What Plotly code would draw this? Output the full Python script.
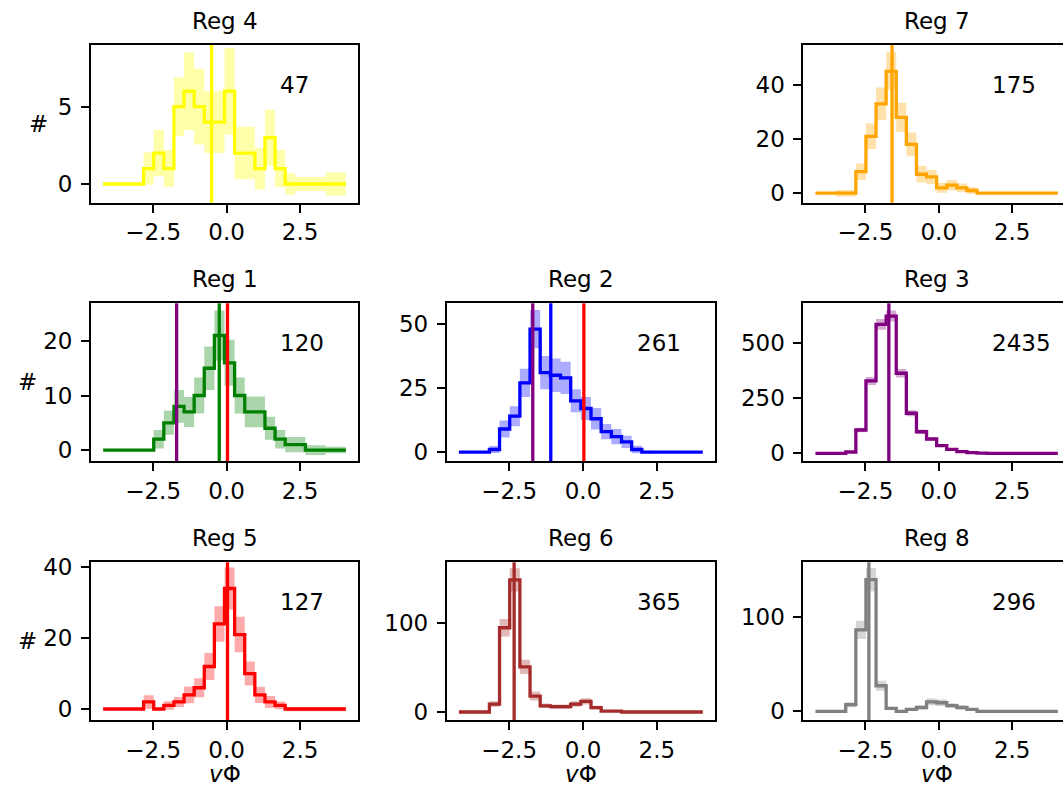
import plotly.graph_objects as go

W, H = 1063, 787
FONT = "DejaVu Sans"
FS = 23

# ---------------- data ----------------
bin_edges = [-4.2, -3.856, -3.512, -3.168, -2.824, -2.48, -2.136, -1.792, -1.448,
             -1.104, -0.76, -0.416, -0.072, 0.272, 0.616, 0.96, 1.304, 1.648,
             1.992, 2.336, 2.68, 3.024, 3.368, 3.712, 4.056]

x_tick_vals = [-2.5, 0.0, 2.5]
x_tick_text = ["\u22122.5", "0.0", "2.5"]

reg4_counts = [0, 0, 0, 0, 1, 2, 1, 5, 6, 5, 4, 4, 6, 2, 2, 1, 3, 1, 0, 0, 0, 0, 0, 0]
reg4_err = [0, 0, 0, 0, 1.05, 1.5, 1.2, 1.9, 2.5, 2.45, 2.0, 2.0, 2.8, 1.7, 1.7, 1.35, 1.8, 1.2,
            0.7, 0.45, 0.45, 0.45, 0.75, 0.75]
reg7_counts = [0, 0, 0, 0, 8, 21, 33, 45, 28, 18, 7, 6, 2, 3, 2, 1, 0, 0, 0, 0, 0, 0, 0, 0]
reg7_err = [0, 0, 1.2, 1.2, 3, 4.7, 6, 7, 5.4, 4.4, 3, 2.6, 1.8, 1.9, 1.6, 1.2, 0, 0, 0, 0, 0, 0, 0, 0]
reg1_counts = [0, 0, 0, 0, 0, 2, 5, 8, 7, 10, 15, 21, 16, 10, 7, 7, 4, 2, 1, 1, 0, 0, 0, 0]
reg1_err = [0, 0, 0, 0, 0, 1.7, 2.2, 3.0, 2.75, 3.3, 4.0, 4.6, 4.2, 3.3, 2.8, 2.8, 2.1, 1.7,
            1.4, 1.4, 0.9, 0.9, 0.6, 0.6]
reg2_counts = [0, 0, 0, 1, 9, 14, 27, 48, 31, 30, 29, 20, 17, 13, 8, 6, 4, 1, 0, 0, 0, 0, 0, 0]
reg2_err = [0, 0, 0, 1.4, 3.3, 3.9, 5.5, 7.5, 6.5, 6.5, 6.3, 4.5, 4.5, 4.2, 3, 3, 2.4, 1.5,
            0.5, 0, 0, 0, 0, 0]
reg3_counts = [0, 0, 0, 6, 106, 329, 586, 624, 364, 182, 98, 65, 35, 18, 8, 3, 1, 0, 0, 0, 0, 0, 0, 0]
reg3_err = [0, 0, 0, 2.5, 10.3, 18.1, 24.2, 25, 19.1, 13.5, 9.9, 8.1, 5.9, 4.2, 2.8, 1.7, 1,
            0, 0, 0, 0, 0, 0, 0]
reg5_counts = [0, 0, 0, 0, 2, 0, 1, 2, 4, 6, 12, 24, 34, 21, 10, 4, 2, 1, 0, 0, 0, 0, 0, 0]
reg5_err = [0, 0, 0, 0, 1.9, 0, 1.2, 1.4, 2.35, 2.7, 3.8, 5, 5.9, 5, 3.4, 2.3, 1.7, 1.1,
            0.6, 0.6, 0.6, 0.6, 0.6, 0.6]
reg6_counts = [0, 0, 0, 9, 95, 149, 51, 18, 7, 6, 6, 9, 12, 5, 1, 1, 0, 0, 0, 0, 0, 0, 0, 0]
reg6_err = [0, 0, 0, 3, 9.8, 13, 8, 5, 2.6, 2.6, 2.5, 3, 3.5, 2.2, 1, 1, 0, 0, 0, 0, 0, 0, 0, 0]
reg8_counts = [0, 0, 0, 7, 86, 139, 27, 3, 0, 2, 4, 10, 9, 6, 4, 2, 0, 0, 0, 0, 0, 0, 0, 0]
reg8_err = [0, 0, 0, 2.6, 9.7, 12.3, 5.3, 1.7, 1, 1.4, 2, 3.5, 3.5, 2.4, 2, 1.4, 0, 0, 0, 0, 0, 0, 0, 0]

region_names = ["Reg 4", "Reg 7", "Reg 1", "Reg 2", "Reg 3", "Reg 5", "Reg 6", "Reg 8"]
region_totals = ["47", "175", "120", "261", "2435", "127", "365", "296"]
region_colors = ["#ffff00", "#ffa500", "#008000", "#0000ff", "#800080", "#ff0000", "#a52a2a", "#808080"]
region_counts = [reg4_counts, reg7_counts, reg1_counts, reg2_counts, reg3_counts,
                 reg5_counts, reg6_counts, reg8_counts]
region_errs = [reg4_err, reg7_err, reg1_err, reg2_err, reg3_err, reg5_err, reg6_err, reg8_err]

# mean vPhi marker lines: (value, colour)
reg4_lines = [(-0.51, "#ffff00")]
reg7_lines = [(-1.59, "#ffa500")]
reg1_lines = [(-1.70, "#800080"), (-0.25, "#008000"), (0.03, "#ff0000")]
reg2_lines = [(-1.70, "#800080"), (-1.09, "#0000ff"), (0.03, "#ff0000")]
reg3_lines = [(-1.70, "#800080")]
reg5_lines = [(0.03, "#ff0000")]
reg6_lines = [(-2.33, "#a52a2a")]
reg8_lines = [(-2.38, "#808080")]
region_lines = [reg4_lines, reg7_lines, reg1_lines, reg2_lines, reg3_lines,
                reg5_lines, reg6_lines, reg8_lines]

y_ranges = [[-1.21, 8.99], [-3.5, 54.7], [-2.0, 26.9], [-3.5, 58.1], [-35, 682],
            [-3.1, 41.4], [-9.0, 168.8], [-9.2, 157.4]]
y_ticks = [[0, 5], [0, 20, 40], [0, 10, 20], [0, 25, 50], [0, 250, 500],
           [0, 20, 40], [0, 100], [0, 100]]

# ---------------- layout geometry (pixels) ----------------
col_px = [(91, 358), (446.7, 715), (803.3, 1070)]
row_px = [(45, 202.7), (303.3, 461), (562.3, 720)]
ylabel_px = [38, 27, 27]
grid_pos = [(0, 0), (0, 2), (1, 0), (1, 1), (1, 2), (2, 0), (2, 1), (2, 2)]
X_RANGE = [-4.613, 4.469]


def rgba(hexc, a):
    h = hexc.lstrip("#")
    r, g, b = int(h[0:2], 16), int(h[2:4], 16), int(h[4:6], 16)
    return f"rgba({r},{g},{b},{a})"


fig = go.Figure()
annotations = []
shapes = []
layout_axes = {}

for i, name in enumerate(region_names):
    n = i + 1
    xa = "x" if n == 1 else f"x{n}"
    ya = "y" if n == 1 else f"y{n}"
    row, col = grid_pos[i]
    c0, c1 = col_px[col]
    r0, r1 = row_px[row]
    color = region_colors[i]
    counts = region_counts[i]
    err = region_errs[i]

    upper = [c + e for c, e in zip(counts, err)]
    lower = [c - e for c, e in zip(counts, err)]
    upper.append(upper[-1])
    lower.append(lower[-1])
    yline = counts + [counts[-1]]

    fig.add_trace(go.Scatter(x=bin_edges, y=upper, mode="lines", line_shape="hv",
                             line=dict(width=0, color=rgba(color, 0)), xaxis=xa, yaxis=ya,
                             showlegend=False, hoverinfo="skip"))
    fig.add_trace(go.Scatter(x=bin_edges, y=lower, mode="lines", line_shape="hv",
                             line=dict(width=0, color=rgba(color, 0)), fill="tonexty",
                             fillcolor=rgba(color, 0.33), xaxis=xa, yaxis=ya,
                             showlegend=False, hoverinfo="skip"))
    fig.add_trace(go.Scatter(x=bin_edges, y=yline, mode="lines", line_shape="hv",
                             line=dict(width=3.3, color=color), xaxis=xa, yaxis=ya,
                             showlegend=False))

    # axis domains
    full_w = c1 - c0
    vis_c1 = min(c1, W)
    xr = [X_RANGE[0], X_RANGE[0] + (vis_c1 - c0) / full_w * (X_RANGE[1] - X_RANGE[0])]
    clipped = c1 > W
    xkey = "xaxis" if n == 1 else f"xaxis{n}"
    ykey = "yaxis" if n == 1 else f"yaxis{n}"
    layout_axes[xkey] = dict(
        domain=[c0 / W, vis_c1 / W], range=xr, anchor=ya, automargin=False,
        tickvals=x_tick_vals, ticktext=x_tick_text,
        showline=True, linecolor="black", linewidth=1.8, mirror=True,
        ticks="outside", ticklen=8, tickwidth=1.8, tickcolor="black",
        showgrid=False, zeroline=False, ticklabelstandoff=0,
        tickfont=dict(family=FONT, size=FS, color="black"),
    )
    layout_axes[ykey] = dict(
        domain=[1 - r1 / H, 1 - r0 / H], range=y_ranges[i], anchor=xa, automargin=False,
        tickvals=y_ticks[i], ticktext=[str(t) for t in y_ticks[i]],
        showline=True, linecolor="black", linewidth=1.8, mirror=(not clipped),
        ticks="outside", ticklen=8, tickwidth=1.8, tickcolor="black",
        showgrid=False, zeroline=False, ticklabelstandoff=4,
        tickfont=dict(family=FONT, size=FS, color="black"),
    )

    for (xv, lc) in region_lines[i]:
        shapes.append(dict(type="line", xref=xa, yref=f"{ya} domain", x0=xv, x1=xv,
                           y0=0, y1=1, line=dict(color=lc, width=3.3), layer="above"))

    # title
    annotations.append(dict(text=name, xref="paper", yref="paper",
                            x=(c0 + c1) / 2 / W, y=1 - (r0 - 24) / H,
                            xanchor="center", yanchor="middle", showarrow=False,
                            font=dict(family=FONT, size=FS, color="black")))
    # total count
    annotations.append(dict(text=region_totals[i], xref="paper", yref="paper",
                            x=(c0 + 0.7 * full_w) / W, y=1 - (r1 - 0.746 * (r1 - r0)) / H,
                            xanchor="left", yanchor="middle", showarrow=False,
                            font=dict(family=FONT, size=FS, color="black")))
    if col == 0:
        annotations.append(dict(text="#", xref="paper", yref="paper",
                                x=ylabel_px[row] / W, y=1 - ((r0 + r1) / 2) / H,
                                xanchor="center", yanchor="middle", showarrow=False,
                                font=dict(family=FONT, size=FS, color="black")))
    if row == 2:
        annotations.append(dict(text="<i>v</i>\u03a6", xref="paper", yref="paper",
                                x=(c0 + c1) / 2 / W, y=1 - 774 / H,
                                xanchor="center", yanchor="middle", showarrow=False,
                                font=dict(family=FONT, size=FS, color="black")))

fig.update_layout(
    width=W, height=H, autosize=False,
    margin=dict(l=0, r=0, t=0, b=0, pad=0),
    paper_bgcolor="white", plot_bgcolor="white",
    showlegend=False,
    annotations=annotations, shapes=shapes,
    **layout_axes,
)

fig.write_html("out.html")
